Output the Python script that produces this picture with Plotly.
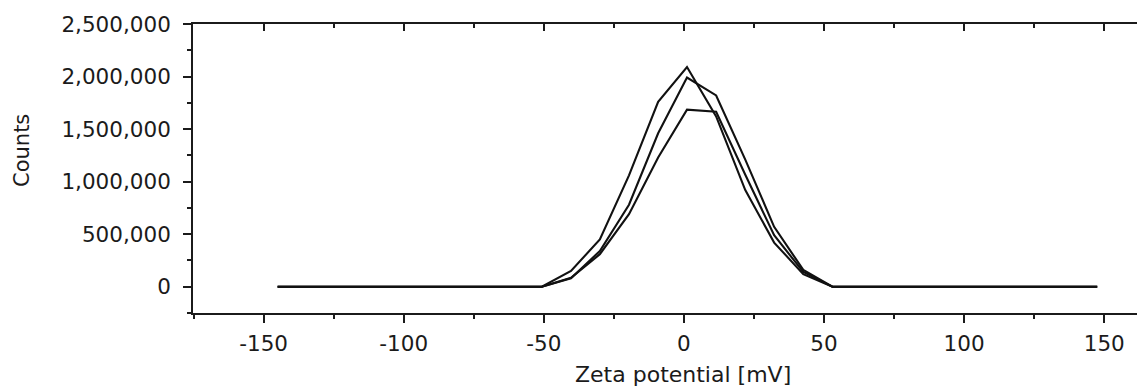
import plotly.graph_objects as go

# Zeta potential axis (mV)
zeta_mv = [-145.0, -133.6, -123.3, -112.9, -102.5, -92.2, -81.8, -71.4, -61.1,
           -50.7, -40.3, -30.0, -19.6, -9.2, 1.1, 11.5, 21.9, 32.2, 42.6, 53.0,
           63.4, 73.7, 84.1, 94.5, 104.8, 115.2, 125.6, 135.9, 147.5]

# Three measurement runs (counts)
counts_run1 = [0, 0, 0, 0, 0, 0, 0, 0, 0,
               0, 150000, 450000, 1060000, 1760000, 2090000, 1620000, 920000, 420000, 120000, 0,
               0, 0, 0, 0, 0, 0, 0, 0, 0]
counts_run2 = [0, 0, 0, 0, 0, 0, 0, 0, 6000,
               0, 80000, 340000, 780000, 1460000, 1990000, 1820000, 1210000, 570000, 160000, 0,
               0, 0, 0, 0, 0, 0, 0, 0, 0]
counts_run3 = [0, 0, 0, 0, 0, 0, 0, 0, 0,
               0, 85000, 310000, 690000, 1230000, 1685000, 1665000, 1065000, 490000, 140000, 0,
               0, 0, 0, 0, 0, 0, 0, 0, 0]

# Tick labels
x_tickvals = [-150, -100, -50, 0, 50, 100, 150]
x_ticktext = ["-150", "-100", "-50", "0", "50", "100", "150"]
y_tickvals = [0, 500000, 1000000, 1500000, 2000000, 2500000]
y_ticktext = ["0", "500,000", "1,000,000", "1,500,000", "2,000,000", "2,500,000"]

x_range = [-175.2, 161.7]
y_range = [-250000, 2500000]
x_title = "Zeta potential [mV]"
y_title = "Counts"

INK = "#1b1b1b"
FONT = "DejaVu Sans"

fig = go.Figure()
for ys in (counts_run3, counts_run2, counts_run1):
    fig.add_trace(go.Scatter(x=zeta_mv, y=ys, mode="lines",
                             line=dict(color="#111111", width=2.1),
                             showlegend=False, hoverinfo="skip"))

# invisible trace to activate the top axis
fig.add_trace(go.Scatter(x=[zeta_mv[0]], y=[0], xaxis="x2", mode="markers",
                         marker=dict(opacity=0), showlegend=False, hoverinfo="skip"))

fig.update_layout(
    width=1137, height=390,
    margin=dict(l=193, r=0, t=24, b=77),
    paper_bgcolor="white", plot_bgcolor="white",
    font=dict(family=FONT, size=21.5, color=INK),
    xaxis=dict(range=x_range, showgrid=False, zeroline=False,
               showline=True, linecolor=INK, linewidth=1.7,
               ticks="outside", ticklen=8, tickwidth=1.7, tickcolor=INK,
               tickmode="array", tickvals=x_tickvals, ticktext=x_ticktext,
               ticklabelstandoff=2,
               minor=dict(ticks="outside", ticklen=4, tickwidth=1.5, tickcolor=INK,
                          tickmode="linear", dtick=25, tick0=0)),
    xaxis2=dict(range=x_range, overlaying="x", side="top", anchor="y",
                showgrid=False, zeroline=False, showticklabels=False,
                showline=True, linecolor=INK, linewidth=1.7,
                ticks="inside", ticklen=7, tickwidth=1.7, tickcolor=INK,
                tick0=0, dtick=50,
                minor=dict(ticks="inside", ticklen=4, tickwidth=1.5, tickcolor=INK, dtick=25, tick0=0)),
    yaxis=dict(range=y_range, showgrid=False, zeroline=False,
               showline=True, linecolor=INK, linewidth=1.7,
               ticks="outside", ticklen=8, tickwidth=1.7, tickcolor=INK,
               tickmode="array", tickvals=y_tickvals, ticktext=y_ticktext,
               ticklabelstandoff=8,
               minor=dict(ticks="outside", ticklen=4, tickwidth=1.5, tickcolor=INK,
                          tickmode="linear", dtick=250000, tick0=0)),
    annotations=[
        dict(text=x_title, xref="paper", yref="paper", x=(682.5 - 193) / 944, y=-(374 - 313) / 289,
             xanchor="center", yanchor="middle", showarrow=False, font=dict(size=22, color=INK)),
        dict(text=y_title, xref="paper", yref="paper", x=-(193 - 22) / 944, y=(313 - 151) / 289,
             xanchor="center", yanchor="middle", showarrow=False, textangle=-90,
             font=dict(size=21, color=INK)),
    ],
)

fig.write_html("out.html")
